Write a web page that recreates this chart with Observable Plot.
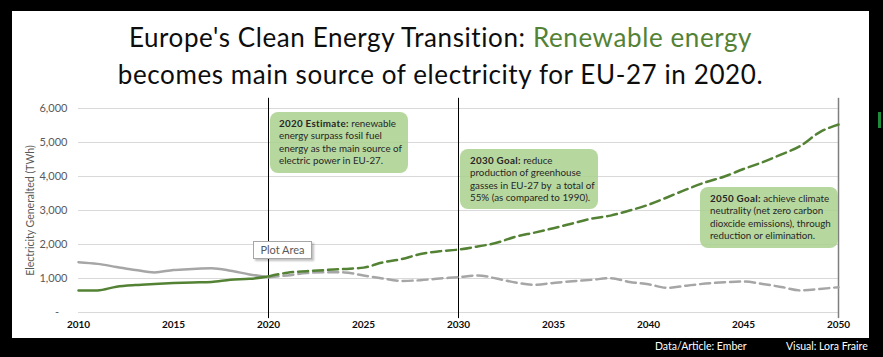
<!DOCTYPE html>
<html>
<head>
<meta charset="utf-8">
<script src="https://cdn.jsdelivr.net/npm/d3@7"></script>
<script src="https://cdn.jsdelivr.net/npm/@observablehq/plot@0.6"></script>
<style>
  html, body { margin: 0; padding: 0; background: #000; width: 883px; height: 357px; overflow: hidden; font-family: Lato, sans-serif; }
  #panel { position: absolute; left: 12px; top: 11px; width: 857px; height: 327px; background: #fff; }
  #title { position: absolute; left: 12px; top: 19px; width: 857px; text-align: center; font-size: 26px; letter-spacing: 0.6px; line-height: 37px; color: #0d0d0d; }
  #title .g { color: #548235; }
  #chart { position: absolute; left: 0; top: 95px; }
  .note { position: absolute; width: 138px; height: 61px; box-sizing: border-box; padding: 5px 0 0 9px; background: rgba(169,209,142,0.85); border-radius: 8px; font-size: 9.8px; line-height: 12.3px; color: #262626; white-space: nowrap; }
  .note b { letter-spacing: 0.3px; }
  #tip { position: absolute; left: 253px; top: 241px; width: 59px; height: 18px; box-sizing: border-box; background: #fff; border: 1px solid #a6a6a6; box-shadow: 2px 2px 2px rgba(0,0,0,0.25); font-size: 11px; line-height: 16px; color: #595959; text-align: center; }
  .foot { position: absolute; top: 340px; font-size: 10.5px; color: #fff; }
  #mark { position: absolute; left: 878px; top: 112px; width: 3px; height: 16px; background: #1e8a3a; }
</style>
</head>
<body>
<div id="panel"></div>
<div id="title">Europe's Clean Energy Transition: <span class="g">Renewable energy</span><br>becomes main source of electricity for EU-27 in 2020.</div>
<div id="chart"></div>
<div class="note" style="left:270px;top:112px;"><b>2020 Estimate:</b> renewable<br>energy surpass fosil fuel<br>energy as the main source of<br>electric power in EU-27.</div>
<div class="note" style="left:460px;top:149px;height:60px;padding-left:10px;"><b>2030 Goal:</b> reduce<br>production of greenhouse<br>gasses in EU-27 by&nbsp; a total of<br>55% (as compared to 1990).</div>
<div class="note" style="left:700px;top:187px;padding-left:10px;"><b>2050 Goal:</b> achieve climate<br>neutrality (net zero carbon<br>dioxcide emissions), through<br>reduction or elimination.</div>
<div id="tip">Plot Area</div>
<div class="foot" style="left:655px;">Data/Article: Ember</div>
<div class="foot" style="left:786px;">Visual: Lora Fraire</div>
<div id="mark"></div>
<script>
const years = d3.range(2010, 2051);
const renewable = [650, 650, 760, 810, 840, 865, 885, 900, 965, 990, 1060, 1170, 1215, 1250, 1280, 1320, 1470, 1570, 1720, 1800, 1850, 1940, 2050, 2230, 2350, 2480, 2620, 2760, 2850, 3000, 3170, 3390, 3620, 3830, 4000, 4220, 4420, 4650, 4900, 5300, 5530];
const fossil = [1480, 1430, 1340, 1250, 1180, 1250, 1280, 1300, 1230, 1120, 1040, 1090, 1160, 1185, 1180, 1090, 1000, 930, 950, 1000, 1040, 1090, 1000, 880, 815, 870, 920, 960, 1010, 900, 830, 725, 790, 850, 890, 910, 840, 750, 650, 690, 745];
const xTicks = [2010, 2015, 2020, 2025, 2030, 2035, 2040, 2045, 2050];
const yTicks = [0, 1000, 2000, 3000, 4000, 5000, 6000];
const milestoneYears = [2020, 2030];
const finalYear = [2050];
const estimateYear = 2020;
const yLabel = "Electricity Generalted (TWh)";

const rows = years.flatMap((yr, i) => [
  {year: yr, value: fossil[i], series: "Fossil"},
  {year: yr, value: renewable[i], series: "Renewable"}
]);
const past = rows.filter(d => d.year <= estimateYear);
const future = rows.filter(d => d.year >= estimateYear);

const chart = Plot.plot({
  width: 883,
  height: 240,
  marginLeft: 78,
  marginRight: 45,
  marginTop: 13,
  marginBottom: 23,
  style: {fontFamily: "Lato, sans-serif", background: "transparent"},
  x: {domain: [2010, 2050]},
  y: {domain: [0, 6000]},
  color: {domain: ["Fossil", "Renewable"], range: ["#a6a6a6", "#548235"]},
  marks: [
    Plot.gridY(yTicks.slice(1), {stroke: "#d9d9d9", strokeOpacity: 1}),
    Plot.ruleY([0], {stroke: "#d9d9d9"}),
    Plot.axisY({ticks: yTicks, tickSize: 0, tickPadding: 11, fontSize: 11, fill: "#595959",
      tickFormat: d => d === 0 ? "-\u00a0\u00a0\u00a0" : d3.format(",")(d), label: null}),
    Plot.axisX({ticks: xTicks, tickSize: 0, tickPadding: 8, fontSize: 10, fontWeight: "bold", fill: "#0d0d0d",
      tickFormat: d => String(d), label: null}),
    Plot.text([yLabel], {frameAnchor: "left", dx: -48, rotate: -90, textAnchor: "middle", fontSize: 10.5, fill: "#595959"}),
    Plot.ruleX(milestoneYears, {y1: 6300, y2: -180, stroke: "#000", strokeWidth: 1}),
    Plot.ruleX(finalYear, {y1: 6300, y2: -180, stroke: "#7f7f7f", strokeWidth: 1.5}),
    Plot.line(past, {x: "year", y: "value", z: "series", stroke: "series", strokeWidth: 2.5, curve: "monotone-x"}),
    Plot.line(future, {x: "year", y: "value", z: "series", stroke: "series", strokeWidth: 2.5, strokeDasharray: "10,5", curve: "monotone-x"})
  ]
});
document.getElementById("chart").appendChild(chart);
</script>
</body>
</html>
